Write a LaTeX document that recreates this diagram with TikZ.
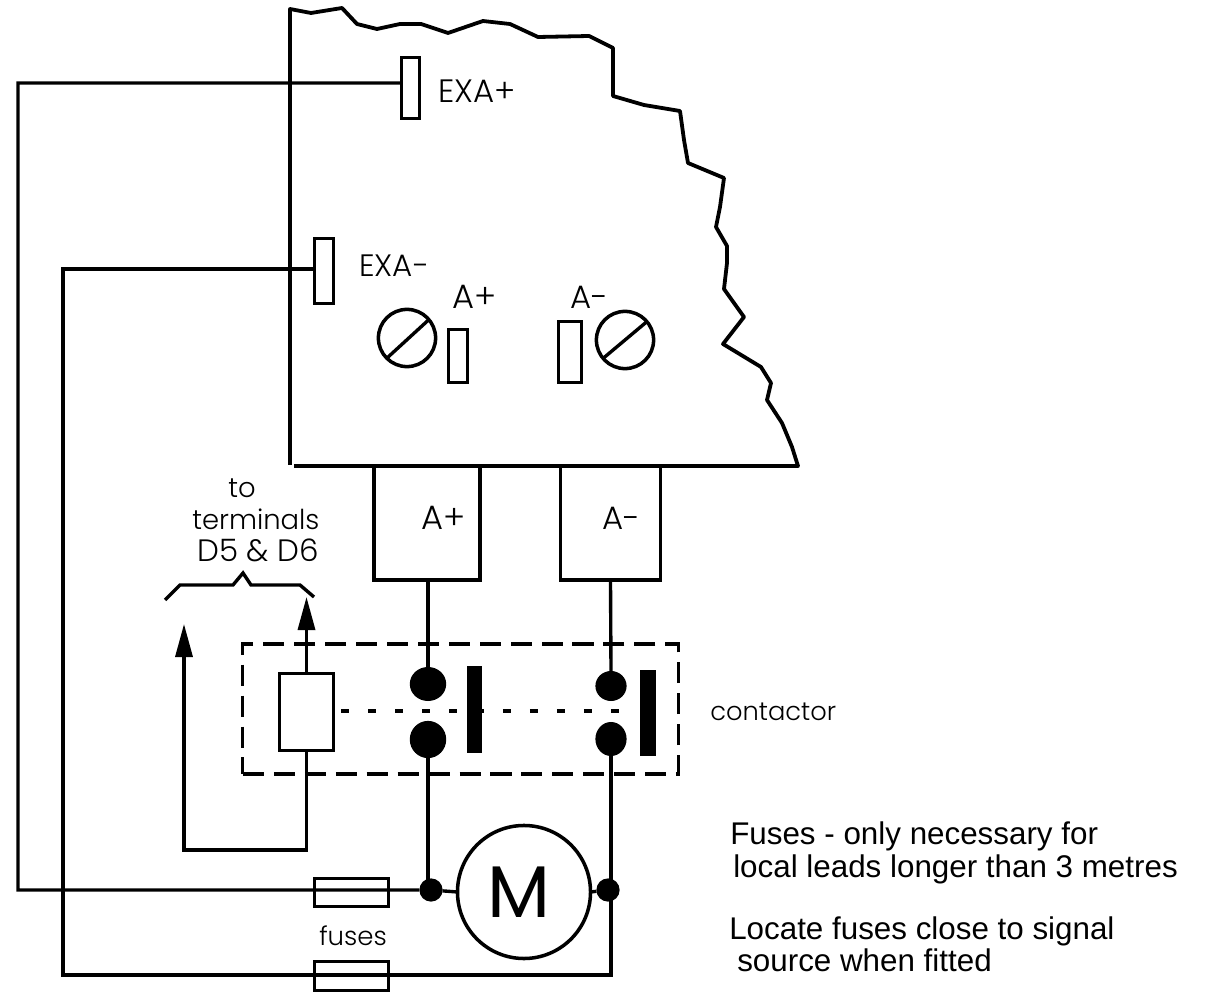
\documentclass[tikz,border=0pt]{standalone}
\usepackage{fontspec}
\setmainfont{Liberation Sans}
\newfontfamily\labelfont{Poppins Light}
\newfontfamily\motorfont{Poppins}
\usetikzlibrary{arrows.meta,shapes.geometric}
\tikzset{
  wire/.style={line width=2.4pt},
  term/.style={draw,line width=2.5pt,inner sep=0pt,outer sep=0pt},
  contact/.style={ellipse,fill=black,inner sep=0pt,outer sep=0pt},
  bar/.style={fill=black,inner sep=0pt,outer sep=0pt,minimum width=.39cm},
  junction/.style={circle,fill=black,inner sep=0pt,outer sep=0pt,minimum size=.58cm},
  lab/.style={anchor=base west,inner sep=0pt,font=\labelfont\fontsize{23}{27}\selectfont},
  labs/.style={lab,font=\labelfont\fontsize{19.5}{24}\selectfont},
  note/.style={anchor=base west,inner sep=0pt,font=\fontsize{22.3}{26}\selectfont},
}
\begin{document}
\begin{tikzpicture}[x=0.025cm,y=-0.025cm]
  \useasboundingbox (0,0) rectangle (1212,997);
  % casing
  \draw[line width=2.7pt,line join=round] (290,465) -- (290,9) -- (311,13) -- (342,8) -- (357,24) -- (377,29)
    -- (400,24) -- (421,24) -- (448,33) -- (483,21) -- (510,24) -- (538,37) -- (589,36)
    -- (613,48) -- (613,96) -- (644,105) -- (680,111) -- (684,140) -- (688,163) -- (724,178)
    -- (720,207) -- (716,227) -- (727,246) -- (727,263) -- (724,289) -- (744,317) -- (723,344)
    -- (761,367) -- (771,383) -- (767,400) -- (782,423) -- (792,447) -- (798,466) -- (294,466);
  % terminals
  \node[term,minimum width=.45cm,minimum height=1.525cm] (exap) at (410.5,88) {};
  \node[term,minimum width=.475cm,minimum height=1.625cm] (exam) at (324,271) {};
  \node[term,minimum width=.475cm,minimum height=1.325cm] (tap) at (458,356) {};
  \node[term,minimum width=.575cm,minimum height=1.525cm] (tam) at (570,352) {};
  \node[lab] (lexap) at (438,103) {EXA+};
  \node[labs,font=\labelfont\fontsize{22}{26}\selectfont] (lexam) at (359,277) {EXA-};
  \node[lab,font=\labelfont\fontsize{24}{28}\selectfont] (ltap) at (452,309) {A+};
  \node[lab] (ltam) at (570,309) {A-};
  % screws
  \node[term,circle,minimum size=1.43cm] (scra) at (407,338) {};
  \node[term,circle,minimum size=1.43cm] (scrb) at (625,340) {};
  \draw[wire] (scra.225) -- (scra.40);
  \draw[wire] (scrb.220) -- (scrb.40);
  % power boxes
  \node[term,minimum width=2.65cm,minimum height=2.85cm] (boxp) at (427,523) {};
  \node[term,minimum width=2.5cm,minimum height=2.85cm] (boxm) at (610.5,523) {};
  \node[lab,font=\labelfont\fontsize{24}{28}\selectfont] (lboxp) at (421,530) {A+};
  \node[lab] (lboxm) at (602,530) {A-};
  % contactor
  \node[draw,line width=2.2pt,dash pattern=on 15pt off 7pt,inner sep=0pt,minimum width=10.875cm,minimum height=3.25cm] (cont) at (460.5,709) {};
  \node[term,minimum width=1.35cm,minimum height=1.925cm] (coil) at (306.5,712) {};
  \node[contact,minimum width=.91cm,minimum height=.85cm] (ctp) at (428,684) {};
  \node[contact,minimum width=.91cm,minimum height=.93cm] (ctpb) at (428,739.5) {};
  \node[contact,minimum width=.78cm,minimum height=.75cm] (ctm) at (611,686) {};
  \node[contact,minimum width=.78cm,minimum height=.85cm] (ctmb) at (611,739) {};
  \node[bar,minimum height=2.175cm] (barp) at (474.5,709.5) {};
  \node[bar,minimum height=2.15cm] (barm) at (648,713) {};
  \coordinate (dota) at (341,711);
  \coordinate (dotb) at (625,711);
  \draw[wire,dash pattern=on 5.7pt off 13.5pt] (dota) -- (dotb);
  \node[labs,font=\labelfont\fontsize{18.3}{22}\selectfont] (lcont) at (710,720) {contactor};
  % motor
  \node[term,circle,minimum size=3.325cm] (motor) at (524,892) {};
  \node[anchor=base,inner sep=0pt,font=\motorfont\fontsize{52}{56}\selectfont] (lmotor) at (519,917) {M};
  \node[junction] (jl) at (431,890) {};
  \node[junction] (jr) at (608,890) {};
  \node[term,minimum width=1.85cm,minimum height=.7cm] (fusa) at (351.5,892.5) {};
  \node[term,minimum width=1.85cm,minimum height=.725cm] (fusb) at (351.5,976) {};
  \node[labs,font=\labelfont\fontsize{18.5}{22}\selectfont] (lfus) at (319,945) {fuses};
  % connections
  \coordinate (exaa) at (18,83);
  \coordinate (exab) at (63,975);
  \draw[wire] ([yshift=.125cm]exap.west) -- (exaa) |- (jl);
  \draw[wire] ([yshift=.05cm]exam.west) -| (exab) -| (ctmb.south);
  \draw[wire] (ctp.north |- boxp.south) -- (ctp.north);
  \draw[wire] (boxm.south) -- (ctm.north);
  \draw[wire] (ctpb.south) -- (ctpb.south |- jl);
  \draw[wire] (jl) -- (motor.west);
  \draw[wire] (jr) -- (motor.east);
  % coil leads
  \coordinate (tipu) at (306.5,597);
  \coordinate (tipd) at (184,624);
  \coordinate (cornd) at (184,850);
  \draw[wire,-{Triangle[length=.825cm,width=.425cm]}] (coil.north) -- (tipu);
  \draw[wire,-{Triangle[length=.825cm,width=.425cm]}] (coil.south) |- (cornd) -- (tipd);
  % brace
  \draw[wire] (165,600) -- (180,585) -- (233,585) -- (243,573) -- (251,585) -- (300,585) -- (314,597);
  \node[labs] (lto) at (228,498) {to};
  \node[labs] (lterm) at (192,530) {terminals};
  \node[lab,font=\labelfont\fontsize{22}{26}\selectfont] (ld) at (197,562) {D5 \& D6};
  % notes
  \node[note] (na) at (730,844) {Fuses - only necessary for};
  \node[note] (nb) at (733,877) {local leads longer than 3 metres};
  \node[note] (nc) at (729,939) {Locate fuses close to signal};
  \node[note] (nd) at (737,971) {source when fitted};
\end{tikzpicture}
\end{document}
